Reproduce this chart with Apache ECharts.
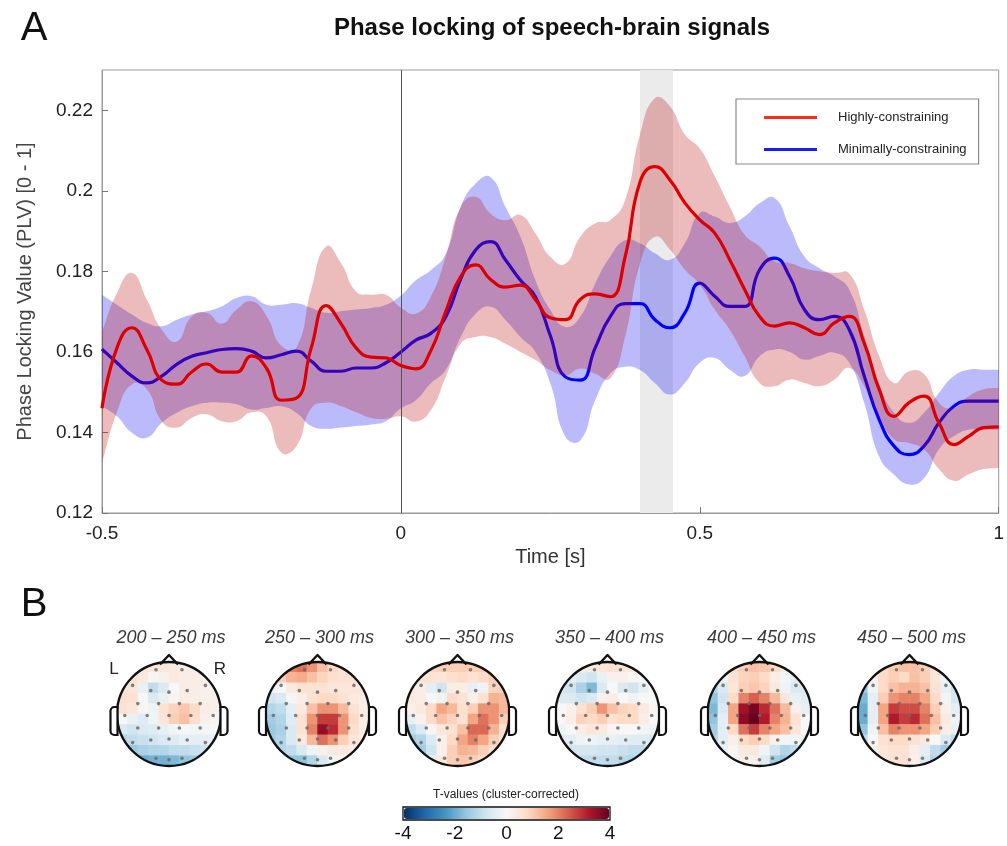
<!DOCTYPE html>
<html>
<head>
<meta charset="utf-8">
<title>Phase locking of speech-brain signals</title>
<script src="https://cdn.jsdelivr.net/npm/echarts@6.0.0/dist/echarts.min.js"></script>
<style>
  html, body { margin: 0; padding: 0; background: #fff; }
  #chart { width: 1007px; height: 846px; }
</style>
</head>
<body>
<div id="chart"></div>
<script>
// ---- panel A : PLV time courses (mean and band edges) ----
const timeS = [-0.5,-0.475,-0.45,-0.425,-0.4,-0.375,-0.35,-0.325,-0.3,-0.275,
  -0.25,-0.225,-0.2,-0.175,-0.15,-0.125,-0.1,-0.075,-0.05,-0.025,
  0,0.025,0.05,0.075,0.1,0.125,0.15,0.175,0.2,0.225,
  0.25,0.275,0.3,0.325,0.35,0.375,0.4,0.425,0.45,0.475,
  0.5,0.525,0.55,0.575,0.6,0.625,0.65,0.675,0.7,0.725,
  0.75,0.775,0.8,0.825,0.85,0.875,0.9,0.925,0.95,0.975,1];

const redMean = [0.146,0.161,0.166,0.1606,0.153,0.152,0.155,0.157,0.155,0.155,
  0.159,0.156,0.148,0.1485,0.161,0.1715,0.167,0.161,0.1587,0.1585,
  0.1566,0.1558,0.1603,0.17,0.1787,0.1816,0.178,0.1761,0.1766,0.173,
  0.1685,0.168,0.173,0.1744,0.1737,0.1835,0.2022,0.206,0.2027,0.197,
  0.1928,0.1895,0.1829,0.1755,0.1688,0.1664,0.1672,0.166,0.1643,0.1672,
  0.1688,0.1622,0.1507,0.144,0.1474,0.149,0.1424,0.137,0.1391,0.1412,0.1414];
const redUp = [0.165,0.1746,0.1796,0.173,0.1655,0.1626,0.1688,0.1697,0.167,0.1705,
  0.1726,0.169,0.1615,0.161,0.1755,0.1862,0.182,0.175,0.1742,0.1742,
  0.171,0.1695,0.1737,0.1836,0.196,0.1985,0.1943,0.1927,0.194,0.1894,
  0.1836,0.1819,0.1886,0.1919,0.1927,0.1977,0.214,0.223,0.221,0.214,
  0.2105,0.2036,0.1961,0.1891,0.1862,0.1825,0.1821,0.1808,0.18,0.1796,
  0.1795,0.1705,0.159,0.1523,0.1552,0.1545,0.1474,0.1461,0.149,0.1507,0.1511];
const redLo = [0.1325,0.145,0.152,0.1507,0.1428,0.1412,0.1436,0.1445,0.1428,0.1428,
  0.145,0.144,0.135,0.1365,0.146,0.1474,0.1465,0.145,0.1436,0.1434,
  0.144,0.1427,0.1455,0.1538,0.162,0.1637,0.1637,0.162,0.16,0.158,
  0.1555,0.1542,0.1559,0.1546,0.1534,0.1637,0.1819,0.1886,0.1854,0.1804,
  0.1767,0.1705,0.1655,0.1589,0.1523,0.1515,0.1531,0.1523,0.1515,0.1531,
  0.156,0.1515,0.144,0.1383,0.1374,0.1358,0.1309,0.128,0.1296,0.1309,0.1312];

const blueMean = [0.1607,0.1573,0.154,0.1523,0.154,0.1569,0.1589,0.1598,0.1606,0.1608,
  0.1602,0.1585,0.1593,0.1602,0.1577,0.1552,0.1552,0.156,0.156,0.1573,
  0.16,0.1629,0.1646,0.1687,0.1781,0.1853,0.1874,0.1828,0.1778,0.1737,
  0.164,0.1538,0.153,0.161,0.1687,0.172,0.172,0.168,0.166,0.1697,
  0.1771,0.1738,0.1713,0.1713,0.1804,0.1833,0.1788,0.1705,0.168,0.1688,
  0.1655,0.154,0.1432,0.1366,0.1345,0.1366,0.1424,0.1465,0.1478,0.1478,0.1478];
const blueUp = [0.1742,0.1717,0.1693,0.1672,0.1664,0.168,0.1693,0.1701,0.1713,0.1734,
  0.1738,0.1717,0.1717,0.1721,0.1709,0.1697,0.1701,0.1705,0.1709,0.1717,
  0.174,0.1778,0.1803,0.1844,0.196,0.2018,0.2034,0.196,0.1886,0.1778,
  0.1704,0.1662,0.1687,0.177,0.1836,0.1877,0.187,0.1845,0.1829,0.187,
  0.1945,0.1936,0.192,0.1936,0.1969,0.1982,0.1912,0.1837,0.1808,0.1788,
  0.1755,0.1639,0.152,0.1449,0.1424,0.1449,0.1498,0.154,0.1556,0.1556,0.1556];
const blueLo = [0.1465,0.144,0.1399,0.1387,0.1424,0.1449,0.1465,0.1474,0.1474,0.147,
  0.1457,0.1461,0.1465,0.1449,0.1416,0.1409,0.1412,0.1416,0.142,0.1428,
  0.146,0.148,0.1522,0.1555,0.1637,0.1695,0.1712,0.1679,0.1637,0.16,
  0.1522,0.139,0.138,0.148,0.1546,0.1563,0.1555,0.1522,0.1494,0.1523,
  0.1573,0.1585,0.1556,0.154,0.1589,0.1606,0.16,0.1581,0.159,0.1598,
  0.1573,0.1474,0.134,0.1295,0.1271,0.1286,0.1358,0.1391,0.1407,0.1407,0.1407];

const sigWindow = [0.4, 0.455];
const yTicks = { min: 0.12, max: 0.23, step: 0.02 };
const xTicks = { min: -0.5, max: 1, step: 0.5 };

// ---- panel B : topographies, T-values on a 10 x 10 grid (row 0 = front) ----
const topoCells = ['0','1','2','3','4','5','6','7','8','9'];
const topoTitles = ['200 – 250 ms','250 – 300 ms','300 – 350 ms','350 – 400 ms','400 – 450 ms','450 – 500 ms'];
const topo200 = [
  [0.5,0.5,0.5,0.5,0.5,0.4,0.3,0.3,0.3,0.3],
  [0.6,0.6,0.4,0.1,0.2,0.4,0.3,0.3,0.3,0.3],
  [0.6,0.5,-0.3,-1.0,-0.6,0.0,0.3,0.3,0.2,0.2],
  [0.7,0.6,0.0,-0.6,-0.3,0.1,0.3,0.3,0.2,0.2],
  [0.6,0.5,0.1,-0.2,0.6,0.9,1.1,0.8,0.3,0.2],
  [0.0,-0.3,-0.5,-0.2,0.5,1.0,1.2,0.7,0.2,0.1],
  [-0.6,-0.8,-0.6,-0.5,-0.3,-0.1,0.0,-0.1,-0.1,0.0],
  [-1.2,-1.0,-0.9,-0.8,-0.6,-0.5,-0.3,-0.4,-0.4,-0.3],
  [-1.6,-1.5,-1.3,-1.2,-1.2,-1.0,-1.0,-0.9,-0.8,-0.7],
  [-2.2,-2.2,-2.0,-1.9,-1.9,-1.8,-1.6,-1.5,-1.4,-1.3]];
const topo250 = [
  [1.0,1.5,2.0,2.2,1.8,1.2,0.8,0.6,0.5,0.5],
  [0.8,1.0,1.4,1.5,1.2,0.9,0.7,0.6,0.6,0.6],
  [-0.2,0.0,0.4,0.6,0.6,0.6,0.5,0.5,0.5,0.5],
  [-0.8,-0.6,-0.1,0.3,0.6,0.8,0.8,0.6,0.4,0.3],
  [-1.2,-1.0,-0.4,0.4,1.2,1.8,1.8,1.3,0.6,0.3],
  [-1.4,-1.2,-0.5,0.6,1.8,2.8,2.8,1.8,0.8,0.3],
  [-1.5,-1.3,-0.6,0.6,2.0,3.5,3.0,1.8,0.7,0.3],
  [-1.4,-1.2,-0.6,0.4,1.3,2.2,1.8,1.0,0.5,0.3],
  [-1.2,-1.2,-1.0,-0.6,-0.2,0.2,0.4,0.4,0.3,0.2],
  [-1.2,-1.4,-1.6,-1.6,-1.2,-0.6,-0.1,0.1,0.1,0.1]];
const topo300 = [
  [0.8,0.8,0.9,1.0,1.0,1.0,1.0,1.0,1.0,1.0],
  [0.6,0.6,0.6,0.5,0.7,0.8,0.6,0.8,1.0,1.0],
  [0.4,0.3,-0.4,-0.8,0.3,0.3,-0.3,-0.2,0.9,1.0],
  [0.4,0.3,0.0,-0.2,0.8,0.6,0.2,0.6,1.4,1.3],
  [0.2,0.4,0.8,1.6,1.3,0.7,1.0,1.8,1.8,1.3],
  [-0.3,0.2,0.8,1.2,0.9,0.6,1.6,2.2,1.8,1.0],
  [-1.0,-0.6,0.1,0.5,0.6,1.2,2.3,2.3,1.4,0.7],
  [-1.4,-1.2,-0.6,0.2,0.8,1.6,2.0,1.6,1.0,0.6],
  [-1.5,-1.4,-0.8,0.2,1.0,1.4,1.3,1.0,0.7,0.5],
  [-1.2,-1.0,-0.4,0.4,1.0,1.1,1.0,0.8,0.6,0.5]];
const topo350 = [
  [0.0,0.2,0.3,0.4,0.5,0.6,0.5,0.4,0.3,0.3],
  [-0.5,-0.4,-0.6,-0.8,-0.3,0.2,0.2,0.1,0.0,0.0],
  [-0.7,-0.8,-1.3,-1.8,-0.6,0.0,-0.6,-0.8,-0.3,0.0],
  [-0.6,-0.6,-0.8,-0.6,0.2,0.3,0.0,-0.2,0.0,0.0],
  [0.0,0.2,0.6,1.0,1.8,1.2,0.9,0.8,0.4,0.1],
  [0.0,0.3,0.9,0.8,1.0,0.6,0.8,0.8,0.3,0.0],
  [-0.2,0.0,0.3,0.5,0.4,0.1,0.0,0.0,-0.1,-0.2],
  [-0.5,-0.4,-0.2,-0.2,-0.3,-0.3,-0.4,-0.5,-0.5,-0.6],
  [-0.9,-0.8,-0.7,-0.7,-0.8,-0.8,-0.9,-1.0,-1.0,-1.0],
  [-1.2,-1.1,-1.0,-1.0,-1.0,-1.0,-1.1,-1.2,-1.2,-1.2]];
const topo400 = [
  [0.2,0.4,0.8,1.0,1.2,1.1,0.8,0.4,0.1,0.0],
  [-0.6,-0.2,0.6,0.9,1.0,0.8,0.3,-0.1,-0.4,-0.4],
  [-1.2,-0.6,0.5,1.0,1.1,0.9,0.4,-0.2,-0.6,-0.6],
  [-1.6,-0.8,0.8,2.0,2.4,2.0,1.3,0.5,-0.3,-0.5],
  [-1.8,-0.6,1.6,3.4,3.8,3.0,2.2,1.3,0.2,-0.3],
  [-1.6,-0.4,1.6,3.6,4.0,3.2,2.0,1.4,0.6,0.0],
  [-1.4,-0.4,0.8,2.2,2.8,2.0,1.6,1.2,0.5,0.0],
  [-1.2,-0.4,0.2,0.8,1.0,0.8,0.2,-0.1,-0.2,-0.3],
  [-0.9,-0.3,0.1,0.4,0.4,-0.2,-0.8,-1.2,-1.0,-0.7],
  [-0.6,-0.2,0.1,0.3,0.2,-0.5,-1.4,-1.6,-1.2,-0.8]];
const topo450 = [
  [0.5,0.6,0.8,1.0,1.2,1.2,1.0,0.6,0.3,0.0],
  [-0.6,0.2,0.8,1.0,0.8,1.2,1.0,0.5,-0.2,-0.4],
  [-1.4,-0.2,0.8,1.2,1.4,1.4,1.2,0.6,-0.3,-0.8],
  [-1.8,-0.4,1.0,1.8,2.0,2.0,1.6,0.8,-0.1,-0.7],
  [-2.0,-0.4,1.6,2.8,2.6,2.6,2.0,1.0,0.2,-0.4],
  [-2.0,-0.4,1.6,3.2,2.8,3.0,2.2,1.2,0.4,-0.2],
  [-1.6,-0.2,1.2,2.0,1.8,1.8,1.6,1.0,0.3,-0.3],
  [-1.0,0.0,0.6,0.8,0.8,0.6,0.4,0.0,-0.6,-1.0],
  [-0.6,0.2,0.5,0.6,0.6,0.3,-0.4,-1.0,-1.4,-1.6],
  [-0.3,0.3,0.5,0.6,0.6,0.2,-0.6,-1.2,-1.6,-1.8]];
const topoMaps = [topo200, topo250, topo300, topo350, topo400, topo450];

// electrode positions on the unit head (x right, y back)
const electrodes = [[-0.25,-0.85],[0.25,-0.85],
  [-0.7,-0.55],[-0.35,-0.45],[0,-0.42],[0.35,-0.45],[0.7,-0.55],
  [-0.6,-0.2],[-0.2,-0.2],[0.2,-0.2],[0.6,-0.2],
  [-0.85,0.03],[-0.42,0.03],[0,0.03],[0.42,0.03],[0.85,0.03],
  [-0.6,0.27],[-0.2,0.27],[0.2,0.27],[0.6,0.27],
  [-0.7,0.55],[-0.35,0.5],[0,0.48],[0.35,0.5],[0.7,0.55],
  [-0.25,0.85],[0,0.88],[0.25,0.85]];

const tColorTicks = [-4, 4, 2];   // min, max, step of the colour bar
const rdbu = ['#053061','#2166ac','#4393c3','#92c5de','#d1e5f0','#f7f7f7','#fddbc7','#f4a582','#d6604d','#b2182b','#67001f'];

// ---- layout ----
const FONT = '"Liberation Sans", Arial, Helvetica, sans-serif';
const headX = [169, 317.5, 457.5, 607.5, 759.5, 909.5];
const headY = 714, headR = 52;

const chart = echarts.init(document.getElementById('chart'));

const grids = [{ left: 102, top: 70, width: 900, height: 443, show: true, borderColor: '#9a9a9a', borderWidth: 1 }];
const xAxes = [{
  type: 'value', gridIndex: 0, min: xTicks.min, max: xTicks.max, interval: xTicks.step,
  name: 'Time [s]', nameLocation: 'middle', nameGap: 34,
  nameTextStyle: { fontSize: 20, color: '#333', fontFamily: FONT },
  axisLine: { onZero: false, lineStyle: { color: '#9a9a9a' } },
  axisTick: { inside: true, length: 6, lineStyle: { color: '#777' } },
  axisLabel: { fontSize: 19, color: '#222', margin: 11, fontFamily: FONT },
  splitLine: { show: false }
}];
const yAxes = [{
  type: 'value', gridIndex: 0, min: yTicks.min, max: yTicks.max, interval: yTicks.step,
  name: 'Phase Locking Value (PLV) [0 - 1]', nameLocation: 'middle', nameGap: 67,
  nameTextStyle: { fontSize: 20, color: '#444', fontFamily: FONT },
  axisLine: { onZero: false, lineStyle: { color: '#9a9a9a' } },
  axisTick: { inside: true, length: 6, lineStyle: { color: '#777' } },
  axisLabel: { fontSize: 19, color: '#222', margin: 9, fontFamily: FONT, showMaxLabel: false },
  splitLine: { show: false }
}];

const pairs = arr => timeS.map((t, i) => [t, arr[i]]);

// shaded band between two edges, smoothed like the mean lines
function band(name, up, lo, fill, z) {
  return {
    name, type: 'custom', xAxisIndex: 0, yAxisIndex: 0, z, silent: true, clip: true,
    data: [0],
    renderItem: (params, api) => {
      const top = timeS.map((t, i) => api.coord([t, up[i]]));
      const bot = timeS.map((t, i) => api.coord([t, lo[i]])).reverse();
      const n = top.length;
      const pts = [top[0]].concat(top, [top[n - 1], bot[0]], bot, [bot[n - 1]]);
      return { type: 'polygon', shape: { points: pts, smooth: 0.5 }, style: { fill } };
    }
  };
}

const series = [
  {
    name: 'marks', type: 'line', data: [[timeS[0], null]], symbol: 'none', z: 1, silent: true,
    markArea: { silent: true, itemStyle: { color: '#ebebeb' }, data: [[{ xAxis: sigWindow[0] }, { xAxis: sigWindow[1] }]] },
    markLine: { silent: true, symbol: ['none', 'none'], label: { show: false },
      lineStyle: { color: '#555', width: 1, type: 'solid' }, data: [{ xAxis: 0 }] }
  },
  band('blueBand', blueUp, blueLo, 'rgba(10,10,245,0.28)', 2),
  {
    name: 'Minimally-constraining', type: 'line', data: pairs(blueMean), smooth: true, symbol: 'none',
    itemStyle: { color: '#1a1aff' }, lineStyle: { color: '#0000ff', width: 3.2 }, z: 3
  },
  band('redBand', redUp, redLo, 'rgba(185,10,10,0.28)', 4),
  {
    name: 'Highly-constraining', type: 'line', data: pairs(redMean), smooth: true, symbol: 'none',
    itemStyle: { color: '#ff2a1a' }, lineStyle: { color: '#dd0000', width: 3.2 }, z: 5
  }
];

const heatIdx = [];
const graphics = [];
const txt = (text, x, y, size, extra) => ({
  type: 'text', z: 60, silent: true,
  style: Object.assign({ text, x, y, fontSize: size, fontFamily: FONT, fill: '#222', align: 'center', verticalAlign: 'middle' }, extra || {})
});

topoMaps.forEach((m, k) => {
  const cx = headX[k];
  const rect = { left: cx - headR, top: headY - headR, width: headR * 2, height: headR * 2 };
  const g1 = grids.length, g2 = g1 + 1;
  grids.push(Object.assign({}, rect), Object.assign({}, rect));
  xAxes.push({ type: 'category', gridIndex: g1, data: topoCells, show: false });
  yAxes.push({ type: 'category', gridIndex: g1, data: topoCells, inverse: true, show: false });
  xAxes.push({ type: 'value', gridIndex: g2, min: -1, max: 1, show: false });
  yAxes.push({ type: 'value', gridIndex: g2, min: -1, max: 1, inverse: true, show: false });

  const cells = [];
  m.forEach((row, r) => row.forEach((v, c) => cells.push([c, r, v])));
  heatIdx.push(series.length);
  series.push({ type: 'heatmap', xAxisIndex: g1, yAxisIndex: g1, data: cells, z: 2, silent: true,
    emphasis: { disabled: true }, itemStyle: { borderWidth: 0 } });
  series.push({ type: 'scatter', xAxisIndex: g2, yAxisIndex: g2, data: electrodes, symbolSize: 3.6, z: 6, silent: true,
    itemStyle: { color: '#6a6a6a', opacity: 0.85 } });

  // white ring that trims the square grid to the round head, then the head drawing
  graphics.push({ type: 'circle', z: 50, silent: true, shape: { cx, cy: headY, r: headR + 12 }, style: { fill: 'none', stroke: '#fff', lineWidth: 24 } });
  graphics.push({ type: 'circle', z: 51, silent: true, shape: { cx, cy: headY, r: headR }, style: { fill: 'none', stroke: '#111', lineWidth: 2.4 } });
  graphics.push({ type: 'polyline', z: 51, silent: true, shape: { points: [[cx - 9, headY - headR + 2.5], [cx, headY - headR - 7], [cx + 9, headY - headR + 2.5]] },
    style: { fill: 'none', stroke: '#111', lineWidth: 2.4, lineJoin: 'round' } });
  graphics.push({ type: 'rect', z: 51, silent: true, shape: { x: cx - headR - 6.5, y: headY - 7, width: 7, height: 28, r: [4, 0, 0, 4] },
    style: { fill: '#fff', stroke: '#111', lineWidth: 2.2 } });
  graphics.push({ type: 'rect', z: 51, silent: true, shape: { x: cx + headR - 0.5, y: headY - 7, width: 7, height: 28, r: [0, 4, 4, 0] },
    style: { fill: '#fff', stroke: '#111', lineWidth: 2.2 } });
  graphics.push(txt(topoTitles[k], cx + 2, 638, 18, { fontStyle: 'italic', fill: '#3a3a3a' }));
});

// colour bar frame + tick axis
const cbGrid = grids.length;
grids.push({ left: 403, top: 807, width: 207, height: 13, show: true, borderColor: '#111', borderWidth: 1.3, backgroundColor: 'transparent' });
xAxes.push({ type: 'value', gridIndex: cbGrid, min: tColorTicks[0], max: tColorTicks[1], interval: tColorTicks[2],
  axisLine: { show: false }, axisTick: { show: false }, splitLine: { show: false },
  axisLabel: { fontSize: 19, color: '#111', margin: 4, fontFamily: FONT } });
yAxes.push({ type: 'value', gridIndex: cbGrid, min: 0, max: 1, show: false });

graphics.push(txt('Phase locking of speech-brain signals', 552, 28, 24, { fontWeight: 'bold', fill: '#111' }));
graphics.push(txt('A', 34, 29, 40, { fill: '#111' }));
graphics.push(txt('B', 34, 605, 40, { fill: '#111' }));
graphics.push(txt('L', 114, 669, 17));
graphics.push(txt('R', 220, 669, 17));
graphics.push(txt('T-values (cluster-corrected)', 506, 795, 12, { fill: '#222' }));

chart.setOption({
  animation: false,
  textStyle: { fontFamily: FONT },
  grid: grids,
  xAxis: xAxes,
  yAxis: yAxes,
  legend: {
    data: ['Highly-constraining', 'Minimally-constraining'],
    orient: 'vertical', left: 736, top: 99, z: 20,
    icon: 'rect', itemWidth: 53, itemHeight: 3, itemGap: 19,
    padding: [12, 12, 8, 28],
    borderColor: '#8a8a8a', borderWidth: 1.2, backgroundColor: '#fff',
    textStyle: { fontSize: 13, color: '#222', fontFamily: FONT, padding: [0, 0, 0, 16] },
    selectedMode: false
  },
  visualMap: {
    type: 'continuous', min: tColorTicks[0], max: tColorTicks[1], seriesIndex: heatIdx,
    inRange: { color: rdbu }, orient: 'horizontal', left: 404, top: 808,
    itemWidth: 11, itemHeight: 205, padding: 0, calculable: false, realtime: false,
    text: null, showLabel: false, hoverLink: false
  },
  series,
  graphic: { elements: graphics }
});
</script>
</body>
</html>
